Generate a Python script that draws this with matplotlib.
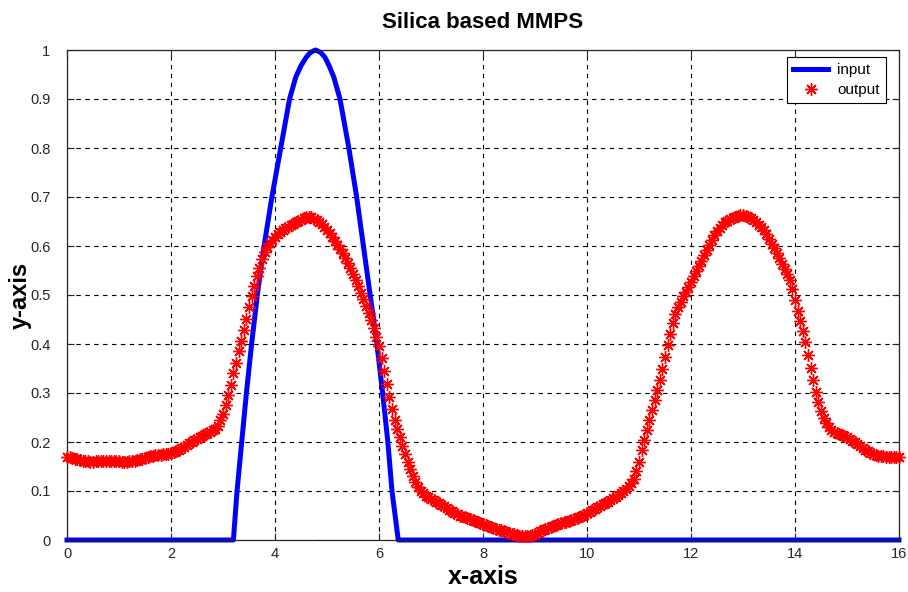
import numpy as np
import matplotlib
matplotlib.use("Agg")
import matplotlib.pyplot as plt
from matplotlib.ticker import FuncFormatter

# Input pulse (piecewise readings along the blue trace)
input_x = [0.0, 3.20, 3.27, 3.36, 3.45, 3.55, 3.66, 3.79, 3.94, 4.11, 4.28,
           4.40, 4.50, 4.60, 4.68, 4.78, 4.88, 4.96, 5.04, 5.13, 5.25, 5.42,
           5.57, 5.70, 5.83, 5.96, 6.07, 6.17, 6.25, 6.37, 16.0]
input_y = [0.0, 0.0, 0.1, 0.2, 0.3, 0.4, 0.5, 0.6, 0.7, 0.8, 0.9,
           0.945, 0.968, 0.985, 0.995, 1.0, 0.995, 0.985, 0.968, 0.945, 0.9,
           0.8, 0.7, 0.6, 0.5, 0.4, 0.3, 0.2, 0.1, 0.0, 0.0]

# Output response sampled every 0.05 from 0 to 16
output_x = np.linspace(0.0, 16.0, 321)
output_y = [
    0.170, 0.169, 0.167, 0.166, 0.165, 0.163, 0.162, 0.161, 0.161, 0.160,
    0.160, 0.161, 0.161, 0.162, 0.162, 0.162, 0.162, 0.161, 0.161, 0.161,
    0.161, 0.160, 0.160, 0.160, 0.161, 0.161, 0.162, 0.163, 0.165, 0.166,
    0.168, 0.169, 0.171, 0.172, 0.173, 0.173, 0.174, 0.175, 0.175, 0.176,
    0.177, 0.179, 0.181, 0.184, 0.187, 0.190, 0.193, 0.197, 0.200, 0.204,
    0.207, 0.210, 0.213, 0.216, 0.219, 0.221, 0.224, 0.227, 0.233, 0.244,
    0.258, 0.275, 0.295, 0.317, 0.340, 0.362, 0.385, 0.406, 0.428, 0.452,
    0.475, 0.497, 0.518, 0.538, 0.556, 0.573, 0.588, 0.598, 0.607, 0.613,
    0.619, 0.624, 0.628, 0.632, 0.636, 0.639, 0.642, 0.645, 0.648, 0.651,
    0.654, 0.657, 0.660, 0.660, 0.659, 0.656, 0.653, 0.649, 0.644, 0.639,
    0.633, 0.626, 0.619, 0.611, 0.603, 0.594, 0.585, 0.576, 0.566, 0.555,
    0.543, 0.531, 0.518, 0.505, 0.492, 0.478, 0.464, 0.448, 0.432, 0.414,
    0.395, 0.371, 0.345, 0.318, 0.292, 0.267, 0.245, 0.227, 0.210, 0.192,
    0.175, 0.160, 0.145, 0.131, 0.118, 0.108, 0.100, 0.095, 0.090, 0.087,
    0.084, 0.081, 0.078, 0.075, 0.072, 0.069, 0.066, 0.062, 0.059, 0.056,
    0.053, 0.050, 0.048, 0.046, 0.044, 0.042, 0.040, 0.038, 0.036, 0.034,
    0.033, 0.031, 0.029, 0.027, 0.025, 0.023, 0.021, 0.020, 0.018, 0.016,
    0.015, 0.013, 0.012, 0.010, 0.009, 0.008, 0.008, 0.008, 0.009, 0.011,
    0.013, 0.015, 0.018, 0.020, 0.022, 0.025, 0.027, 0.029, 0.031, 0.033,
    0.035, 0.036, 0.037, 0.039, 0.041, 0.043, 0.045, 0.047, 0.050, 0.052,
    0.055, 0.058, 0.061, 0.064, 0.067, 0.070, 0.073, 0.075, 0.078, 0.081,
    0.085, 0.088, 0.092, 0.096, 0.101, 0.105, 0.110, 0.117, 0.125, 0.140,
    0.160, 0.183, 0.205, 0.225, 0.245, 0.265, 0.285, 0.306, 0.327, 0.350,
    0.374, 0.397, 0.420, 0.442, 0.462, 0.475, 0.486, 0.497, 0.507, 0.517,
    0.527, 0.538, 0.549, 0.560, 0.570, 0.581, 0.592, 0.603, 0.613, 0.622,
    0.630, 0.637, 0.643, 0.648, 0.652, 0.655, 0.658, 0.660, 0.662, 0.663,
    0.663, 0.662, 0.660, 0.657, 0.653, 0.648, 0.643, 0.638, 0.632, 0.624,
    0.615, 0.605, 0.595, 0.585, 0.575, 0.564, 0.553, 0.542, 0.530, 0.512,
    0.490, 0.468, 0.447, 0.426, 0.404, 0.378, 0.352, 0.327, 0.302, 0.281,
    0.263, 0.249, 0.238, 0.230, 0.225, 0.221, 0.218, 0.216, 0.214, 0.212,
    0.210, 0.207, 0.203, 0.199, 0.195, 0.191, 0.188, 0.184, 0.181, 0.178,
    0.176, 0.174, 0.172, 0.171, 0.171, 0.170, 0.170, 0.170, 0.170, 0.170,
    0.170,
]

x_ticks = list(range(0, 17, 2))
y_ticks = [0.0, 0.1, 0.2, 0.3, 0.4, 0.5, 0.6, 0.7, 0.8, 0.9, 1.0]

plt.rcParams["font.family"] = ["Liberation Sans", "DejaVu Sans"]

fig = plt.figure(figsize=(9.08, 5.92), dpi=100, facecolor="white")
ax = fig.add_axes([67 / 908, 52 / 592, 832 / 908, 490 / 592])

ax.plot(input_x, input_y, color=(0, 0, 1), linewidth=3.6,
        solid_joinstyle="round", label="input", zorder=2, clip_on=False)
ax.plot(output_x, output_y, linestyle="none", marker=(8, 2, 0),
        markersize=9, markeredgewidth=1.0, color=(1, 0, 0),
        label="output", zorder=3, clip_on=False)

ax.set_xlim(0, 16)
ax.set_ylim(0, 1)
ax.set_xticks(x_ticks)
ax.set_yticks(y_ticks)
ax.yaxis.set_major_formatter(FuncFormatter(lambda v, p: f"{v:g}"))

ax.grid(True, color="black", linestyle=(0, (4, 4)), linewidth=0.8)
ax.set_axisbelow(True)
ax.tick_params(direction="in", length=5, width=0.8, top=True, right=True,
               labelsize=10.5, colors="#262626")
ax.tick_params(axis="y", pad=12)
ax.tick_params(axis="x", pad=5)
for s in ax.spines.values():
    s.set_color("#262626")
    s.set_linewidth(0.9)

ax.set_title("Silica based MMPS", fontsize=16, fontweight="bold", pad=16)
ax.set_xlabel("x-axis", fontsize=18, fontweight="bold", labelpad=3)
ax.set_ylabel("y-axis", fontsize=17, fontweight="bold", labelpad=-1)

leg = ax.legend(loc="upper right", bbox_to_anchor=(0.9844, 0.9857),
                fontsize=11, frameon=True, fancybox=False,
                edgecolor="black", framealpha=1, borderpad=0.4,
                handlelength=2.3, handletextpad=0.6, labelspacing=0.4,
                borderaxespad=0.0)
leg.get_frame().set_linewidth(0.8)

fig.savefig("out.png", dpi=100, facecolor="white")
